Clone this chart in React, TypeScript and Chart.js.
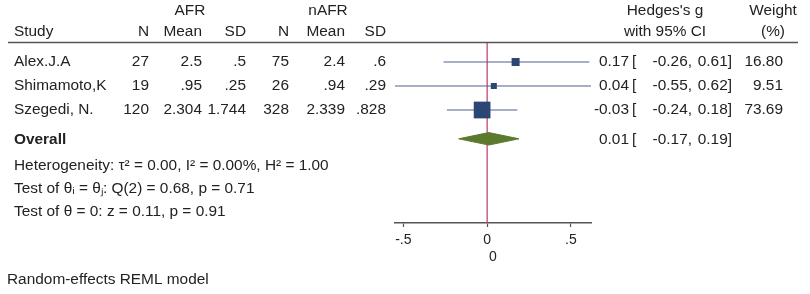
import React, { useEffect, useRef } from "react";
import { Chart, registerables } from "chart.js";

Chart.register(...registerables);

// ---- data ----
const studies = ["Alex.J.A", "Shimamoto,K", "Szegedi, N."];
const afrN = [27, 19, 120];
const afrMean = [2.5, 0.95, 2.304];
const afrSD = [0.5, 0.25, 1.744];
const nafrN = [75, 26, 328];
const nafrMean = [2.4, 0.94, 2.339];
const nafrSD = [0.6, 0.29, 0.828];
const hedgesG = [0.17, 0.04, -0.03];
const ciLow = [-0.26, -0.55, -0.24];
const ciHigh = [0.61, 0.62, 0.18];
const weights = [16.8, 9.51, 73.69];
const overallEst = [0.01];
const overallLow = [-0.17];
const overallHigh = [0.19];
const hetStats = { tau2: 0.0, I2: 0.0, H2: 1.0 };
const qStats = { df: 2, Q: 0.68, p: 0.71 };
const zStats = { z: 0.11, p: 0.91 };
const xTickValues = [-0.5, 0, 0.5];
const xTickLabels = ["-.5", "0", ".5"];
const xAxisTitle = "0";
const footnote = "Random-effects REML model";

// ---- layout (styling only) ----
const W = 810;
const H = 294;
const AREA_LEFT = 395;
const AREA_RIGHT = 591;
const AREA_TOP = 43;
const AREA_BOTTOM = 223;
const X_AXIS_H = 43;
const ROW_PX = 24;
const FIRST_ROW_PX = 62;
const Y_MIN = 1 - (FIRST_ROW_PX - AREA_TOP) / ROW_PX;
const Y_MAX = Y_MIN + (AREA_BOTTOM - AREA_TOP) / ROW_PX;
const OVERALL_ROW = 4.2;
const DIAMOND_HALF = 0.26;
const FONT = "Liberation Sans, Arial, Helvetica, sans-serif";
const FS = 14;
const SX = 1.1;
const TEXT = "#222";

const rows = studies.map((_, i) => i + 1);

const fmtStata = (v: number) => {
  let s = String(v);
  if (s.startsWith("0.")) s = s.slice(1);
  return s;
};

const tablePlugin = {
  id: "forestTable",
  afterDraw(chart: any) {
    const ctx = chart.ctx as CanvasRenderingContext2D;
    const yS = chart.scales.y;
    const put = (
      txt: string,
      x: number,
      y: number,
      align: "left" | "right" | "center" = "left",
      bold = false
    ) => {
      ctx.save();
      ctx.font = `${bold ? "bold " : ""}${FS}px ${FONT}`;
      ctx.fillStyle = TEXT;
      ctx.textBaseline = "middle";
      ctx.textAlign = align;
      ctx.translate(x, y);
      ctx.scale(SX, 1);
      ctx.fillText(txt, 0, 0);
      ctx.restore();
    };

    const cN = 149, cM = 202, cS = 246, cN2 = 289, cM2 = 345, cS2 = 386;

    // header
    put("AFR", 190, 11, "center");
    put("nAFR", 328, 11, "center");
    put("Hedges's g", 665, 11, "center");
    put("Weight", 773, 11, "center");
    put("Study", 14, 32, "left");
    put("N", cN, 32, "right");
    put("Mean", cM, 32, "right");
    put("SD", cS, 32, "right");
    put("N", cN2, 32, "right");
    put("Mean", cM2, 32, "right");
    put("SD", cS2, 32, "right");
    put("with 95% CI", 665, 32, "center");
    put("(%)", 773, 32, "center");

    // header rule
    ctx.save();
    ctx.strokeStyle = "#555";
    ctx.lineWidth = 1.5;
    ctx.beginPath();
    ctx.moveTo(8, 42.5);
    ctx.lineTo(798, 42.5);
    ctx.stroke();
    ctx.restore();

    // study rows
    studies.forEach((name, i) => {
      const y = yS.getPixelForValue(rows[i]);
      put(name, 14, y, "left");
      put(String(afrN[i]), cN, y, "right");
      put(fmtStata(afrMean[i]), cM, y, "right");
      put(fmtStata(afrSD[i]), cS, y, "right");
      put(String(nafrN[i]), cN2, y, "right");
      put(fmtStata(nafrMean[i]), cM2, y, "right");
      put(fmtStata(nafrSD[i]), cS2, y, "right");
      put(hedgesG[i].toFixed(2), 629, y, "right");
      put("[", 632, y, "left");
      put(ciLow[i].toFixed(2) + ",", 692, y, "right");
      put(ciHigh[i].toFixed(2) + "]", 732, y, "right");
      put(weights[i].toFixed(2), 783, y, "right");
    });

    // overall
    const yo = yS.getPixelForValue(OVERALL_ROW);
    put("Overall", 14, yo + 1, "left", true);
    put(overallEst[0].toFixed(2), 629, yo + 1, "right");
    put("[", 632, yo + 1, "left");
    put(overallLow[0].toFixed(2) + ",", 692, yo + 1, "right");
    put(overallHigh[0].toFixed(2) + "]", 732, yo + 1, "right");

    put(
      `Heterogeneity: \u03c4\u00b2 = ${hetStats.tau2.toFixed(2)}, I\u00b2 = ${hetStats.I2.toFixed(2)}%, H\u00b2 = ${hetStats.H2.toFixed(2)}`,
      14,
      yo + 27,
      "left"
    );
    put(
      `Test of \u03b8\u1d62 = \u03b8\u2c7c: Q(${qStats.df}) = ${qStats.Q.toFixed(2)}, p = ${qStats.p.toFixed(2)}`,
      14,
      yo + 50,
      "left"
    );
    put(
      `Test of \u03b8 = 0: z = ${zStats.z.toFixed(2)}, p = ${zStats.p.toFixed(2)}`,
      14,
      yo + 73,
      "left"
    );
    put(footnote, 7, 280, "left");
  },
};

export default function App() {
  const ref = useRef<HTMLCanvasElement | null>(null);

  useEffect(() => {
    if (!ref.current) return;

    const ciSets = studies.map((s, i) => ({
      label: s + " CI",
      data: [
        { x: ciLow[i], y: rows[i] },
        { x: ciHigh[i], y: rows[i] },
      ],
      showLine: true,
      borderColor: "#50608e",
      borderWidth: 1.2,
      pointRadius: 0,
      order: 5,
    }));

    const chart = new Chart(ref.current, {
      type: "scatter",
      data: {
        datasets: [
          {
            label: "no effect",
            data: [
              { x: 0, y: Y_MIN },
              { x: 0, y: Y_MAX },
            ],
            showLine: true,
            borderColor: "#c0356a",
            borderWidth: 1.2,
            pointRadius: 0,
            order: 10,
          },
          ...ciSets,
          {
            label: "estimates",
            data: hedgesG.map((g, i) => ({ x: g, y: rows[i] })),
            pointStyle: "rect",
            pointRadius: (c: any) =>
              (1.95 * Math.sqrt(weights[c.dataIndex] ?? 1)) / Math.SQRT2,
            backgroundColor: "#2b4672",
            borderColor: "#2b4672",
            borderWidth: 0,
            order: 1,
          },
          {
            label: "overall",
            data: [
              { x: overallLow[0], y: OVERALL_ROW },
              { x: overallEst[0], y: OVERALL_ROW - DIAMOND_HALF },
              { x: overallHigh[0], y: OVERALL_ROW },
              { x: overallEst[0], y: OVERALL_ROW + DIAMOND_HALF },
              { x: overallLow[0], y: OVERALL_ROW },
            ],
            showLine: true,
            fill: "shape",
            backgroundColor: "#5b7a2e",
            borderColor: "#5b7a2e",
            borderWidth: 1,
            pointRadius: 0,
            tension: 0,
            order: 2,
          } as any,
        ],
      },
      options: {
        animation: false,
        responsive: false,
        devicePixelRatio: 1,
        events: [],
        layout: {
          padding: {
            left: AREA_LEFT,
            right: W - AREA_RIGHT,
            top: AREA_TOP,
            bottom: H - AREA_BOTTOM - X_AXIS_H,
          },
        },
        plugins: {
          legend: { display: false },
          tooltip: { enabled: false },
        },
        scales: {
          x: {
            type: "linear",
            min: Math.min(...ciLow),
            max: Math.max(...ciHigh),
            afterBuildTicks: (s: any) => {
              s.ticks = xTickValues.map((v) => ({ value: v }));
            },
            afterFit: (s: any) => {
              s.height = X_AXIS_H;
              s.paddingLeft = 0;
              s.paddingRight = 0;
            },
            ticks: {
              autoSkip: false,
              maxRotation: 0,
              padding: 5,
              color: TEXT,
              font: { family: FONT, size: FS },
              callback: (v: any) => {
                const idx = xTickValues.indexOf(Number(v));
                return idx >= 0 ? xTickLabels[idx] : "";
              },
            },
            grid: {
              drawOnChartArea: false,
              drawTicks: true,
              tickLength: 4,
              color: "#555",
              tickWidth: 1.2,
            },
            border: { display: true, color: "#555", width: 1.5 },
            title: {
              display: true,
              text: xAxisTitle,
              color: TEXT,
              font: { family: FONT, size: FS },
              padding: { top: 0, bottom: 0 },
            },
          },
          y: {
            type: "linear",
            display: false,
            reverse: true,
            min: Y_MIN,
            max: Y_MAX,
          },
        },
      },
      plugins: [tablePlugin],
    } as any);

    return () => chart.destroy();
  }, []);

  return (
    <canvas
      ref={ref}
      width={W}
      height={H}
      style={{
        position: "fixed",
        left: 0,
        top: 0,
        width: W,
        height: H,
        background: "#fff",
      }}
    />
  );
}
